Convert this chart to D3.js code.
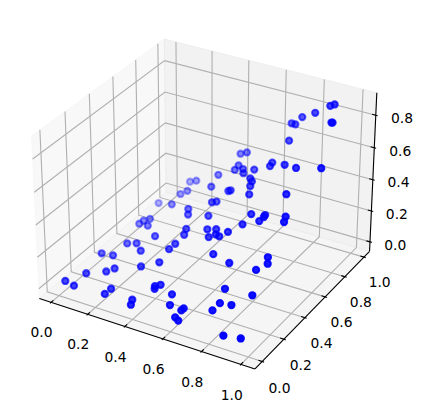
<!DOCTYPE html><html><head><meta charset="utf-8"><script src="https://cdn.jsdelivr.net/npm/d3@7"></script>
<style>html,body{margin:0;background:#fff}</style></head><body><svg id="c" width="422" height="412"></svg><script>
const xs=[.904,.879,.935,.942,.799,.722,.668,.699,.714,.678,.675,.764,.843,.990,.857,.583,.450,.403,.451,.445,.502,.523,.590,.612,.618,.640,.507,.496,.342,.354,.462,.435,.468,.713,.793,.791,.777,.909,.913,.694,.636,.512,.562,.576,.546,.601,.623,.729,.910,.923,.879,.771,.916,.780,.838,.762,.866,.949,.003,.060,.055,.140,.167,.021,.094,.106,.161,.222,.291,.369,.371,.384,.234,.399,.387,.049,.058,.093,.126,.234,.226,.367,.377,.451,.428,.435,.533,.553,.625,.619,.609,.631,.012,.154,.145,.184,.119,.181,.308,.334];
const ys=[.966,.972,.877,.874,.979,.999,.997,.975,.887,.793,.777,.753,.715,.678,.599,.793,.961,.983,.879,.853,.831,.797,.743,.719,.693,.644,.705,.703,.876,.788,.651,.655,.565,.533,.518,.510,.493,.498,.476,.486,.454,.480,.475,.447,.434,.435,.343,.304,.334,.309,.282,.192,.183,.131,.133,.096,.013,.022,.051,.037,.148,.188,.218,.333,.319,.425,.421,.360,.251,.286,.370,.404,.469,.460,.499,.624,.650,.652,.578,.082,.041,.052,.024,.162,.150,.136,.126,.075,.075,.064,.027,.017,.863,.754,.851,.851,.985,.941,.651,.605];
const zs=[.865,.846,.813,.816,.775,.714,.660,.675,.627,.532,.518,.569,.597,.665,.508,.457,.427,.391,.391,.375,.412,.412,.433,.435,.423,.407,.352,.345,.296,.275,.297,.281,.260,.375,.406,.398,.378,.448,.430,.333,.285,.242,.263,.253,.233,.257,.210,.218,.300,.281,.244,.145,.165,.099,.108,.070,.009,.018,.000,.000,.006,.023,.033,.005,.027,.042,.065,.077,.070,.103,.134,.152,.107,.180,.189,.028,.035,.058,.070,.016,.007,.016,.007,.070,.061,.056,.064,.038,.044,.037,.014,.009,.008,.113,.120,.154,.114,.167,.197,.198];
const xTicks=[0,.2,.4,.6,.8,1],yTicks=[0,.2,.4,.6,.8,1],zTicks=[0,.2,.4,.6,.8];
const xLim=[-0.065,1.07],yLim=[-0.065,1.06],zLim=[-0.062,0.936];
const bx=d3.scaleLinear().domain(xLim).range([0,1]),by=d3.scaleLinear().domain(yLim).range([0,1]),bz=d3.scaleLinear().domain(zLim).range([0,1]);
const B=[1.1905,1.1905,0.8929],D=10,K=2075,CX=207.5,CY=196;
const sX=d3.scaleLinear().domain([0,1]).range([CX,CX+K]),sY=d3.scaleLinear().domain([0,1]).range([CY,CY-K]);
function projB(a,b,c){const dx=(a-.5)*B[0],dy=(b-.5)*B[1],dz=(c-.5)*B[2];
 const xe=.8660254*dx+.5*dy,ye=-.25*dx+.4330127*dy+.8660254*dz,ze=.4330127*dx-.75*dy+.5*dz,w=D-ze;return [sX(xe/w),sY(ye/w),ze];}
const P=(x,y,z)=>projB(bx(x),by(y),bz(z));
const svg=d3.select("#c");
const poly=(pts,fill)=>svg.append("polygon").attr("points",pts.map(p=>projB(...p).slice(0,2).join(",")).join(" ")).attr("fill",fill).attr("stroke",fill).attr("stroke-width",1);
poly([[0,0,0],[0,1,0],[0,1,1],[0,0,1]],"rgba(242,242,242,.5)");
poly([[0,1,0],[1,1,0],[1,1,1],[0,1,1]],"rgba(230,230,230,.5)");
poly([[0,0,0],[1,0,0],[1,1,0],[0,1,0]],"rgba(236,236,236,.5)");
const line=d3.line();
const path=(pts,c,w)=>svg.append("path").attr("d",line(pts.map(p=>P(...p).slice(0,2)))).attr("fill","none").attr("stroke",c).attr("stroke-width",w);
const [x0,x1]=xLim,[y0,y1]=yLim,[z0,z1]=zLim,G="#b0b0b0",LW=1.11;
xTicks.forEach(t=>path([[t,y0,z0],[t,y1,z0],[t,y1,z1]],G,LW));
yTicks.forEach(t=>path([[x1,t,z0],[x0,t,z0],[x0,t,z1]],G,LW));
zTicks.forEach(t=>path([[x0,y0,t],[x0,y1,t],[x1,y1,t]],G,LW));
path([[x0,y0,z0],[x1,y0,z0]],"#000",LW);path([[x1,y0,z0],[x1,y1,z0]],"#000",LW);path([[x1,y1,z0],[x1,y1,z1]],"#000",LW);
const dxr=(x1-x0)/12,dyr=(y1-y0)/12,dzr=(z1-z0)/12;
const lab=(p,s,nx,ny)=>{const q=P(...p);svg.append("text").attr("x",q[0]+nx).attr("y",q[1]+ny).attr("dy","0.36em").attr("text-anchor","middle").attr("font-family","DejaVu Sans").attr("font-size",13.89).attr("fill","#000").text(s)};
const F=d3.format(".1f"),L=1.1;
xTicks.forEach(t=>{path([[t,y0-.1*dyr,z0],[t,y0+.2*dyr,z0]],"#000",LW);lab([t,y0-L*dyr,z0-L*dzr],F(t),2.5,4.5)});
yTicks.forEach(t=>{path([[x1+.1*dxr,t,z0],[x1-.2*dxr,t,z0]],"#000",LW);lab([x1+L*dxr,t,z0-L*dzr],F(t),-3.3,4.8)});
zTicks.forEach(t=>{path([[x1+.1*dxr,y1,t],[x1-.2*dxr,y1,t]],"#000",LW);lab([x1+L*dxr,y1+L*dyr,t],F(t),-3.9,6.8)});
const pts=xs.map((x,i)=>{const p=P(x,ys[i],zs[i]);return{sx:p[0],sy:p[1],ze:p[2]}}).sort((a,b)=>a.ze-b.ze);
const al=d3.scaleLinear().domain(d3.extent(pts,d=>d.ze)).range([.3,1]);
svg.append("g").selectAll("circle").data(pts).join("circle").attr("cx",d=>d.sx).attr("cy",d=>d.sy).attr("r",3.1).attr("fill","#00f").attr("stroke","#00f").attr("stroke-width",2.08).attr("fill-opacity",d=>al(d.ze)).attr("stroke-opacity",d=>al(d.ze));
</script></body></html>
